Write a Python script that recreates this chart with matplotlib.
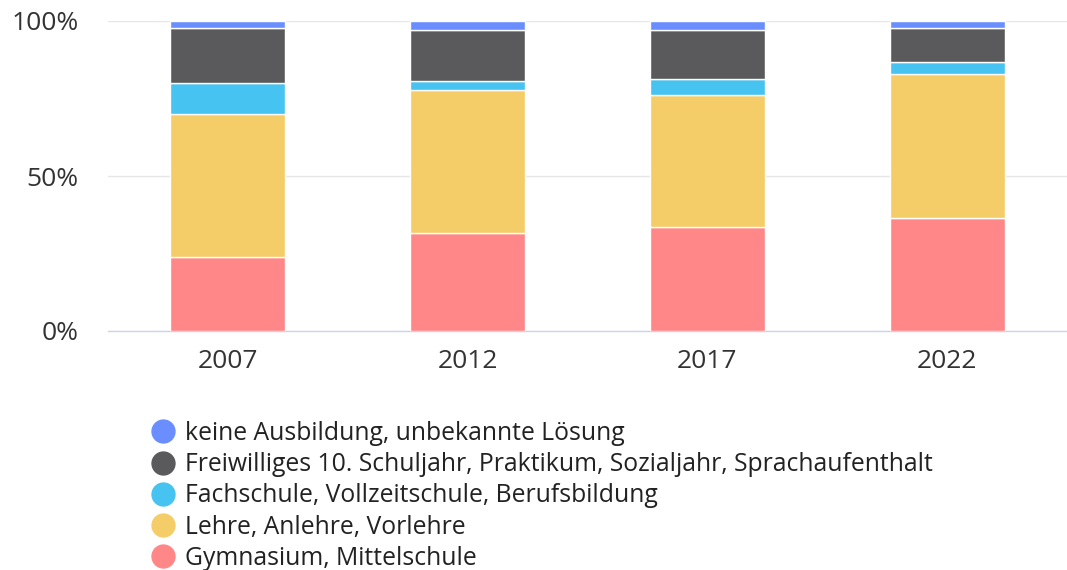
import matplotlib
matplotlib.use("Agg")
import matplotlib.pyplot as plt
from matplotlib.lines import Line2D
import numpy as np

plt.rcParams['font.family'] = ['Open Sans', 'DejaVu Sans']

years = ["2007", "2012", "2017", "2022"]
series_names = [
    "Gymnasium, Mittelschule",
    "Lehre, Anlehre, Vorlehre",
    "Fachschule, Vollzeitschule, Berufsbildung",
    "Freiwilliges 10. Schuljahr, Praktikum, Sozialjahr, Sprachaufenthalt",
    "keine Ausbildung, unbekannte Lösung",
]
gymnasium = [24.0, 31.7, 33.4, 36.3]
lehre = [46.0, 46.0, 42.6, 46.6]
fachschule = [10.1, 2.9, 5.3, 3.8]
freiwillig = [17.5, 16.6, 15.9, 11.0]
keine = [2.4, 2.8, 2.8, 2.3]
colors = ["#ff8787", "#f4cd68", "#46c3f0", "#5a5a5c", "#6a8eff"]

data = [gymnasium, lehre, fachschule, freiwillig, keine]

fig = plt.figure(figsize=(10.67, 5.70), dpi=100)
ax = fig.add_axes([108/1067, 1-331/570, 1-108/1067, 310/570])

x = np.arange(len(years))
bottom = np.zeros(len(years))
handles = []
for vals, name, col in zip(data, series_names, colors):
    vals = np.array(vals)
    ax.bar(x, vals, bottom=bottom, width=0.48, color=col, edgecolor="white", linewidth=1, zorder=3)
    bottom += vals
    handles.append(Line2D([0], [0], marker="o", linestyle="none", markersize=16.5,
                          markerfacecolor=col, markeredgecolor=col, label=name))

ax.set_xlim(-0.5, len(years) - 0.5)
ax.set_ylim(0, 100)
ax.set_yticks([0, 50, 100])
ax.set_yticklabels(["0%", "50%", "100%"])
ax.set_xticks(x)
ax.set_xticklabels(years)
ax.tick_params(axis="both", length=0, labelsize=19, colors="#333333")
ax.tick_params(axis="y", pad=21)
ax.tick_params(axis="x", pad=13)
ax.grid(axis="y", color="#e6e6e6", linewidth=1, zorder=0)
for s in ["top", "right", "left"]:
    ax.spines[s].set_visible(False)
ax.spines["bottom"].set_color("#ccd6eb")
ax.spines["bottom"].set_linewidth(1)

leg = fig.legend(handles=handles[::-1], loc="upper left", bbox_to_anchor=(148/1067, 1-421/570),
                 frameon=False, fontsize=17.8, handletextpad=0.3, labelspacing=0.25,
                 handlelength=1.2, borderpad=0, borderaxespad=0)
for t in leg.get_texts():
    t.set_color("#222222")

fig.savefig("out.png", dpi=100, facecolor="white")
